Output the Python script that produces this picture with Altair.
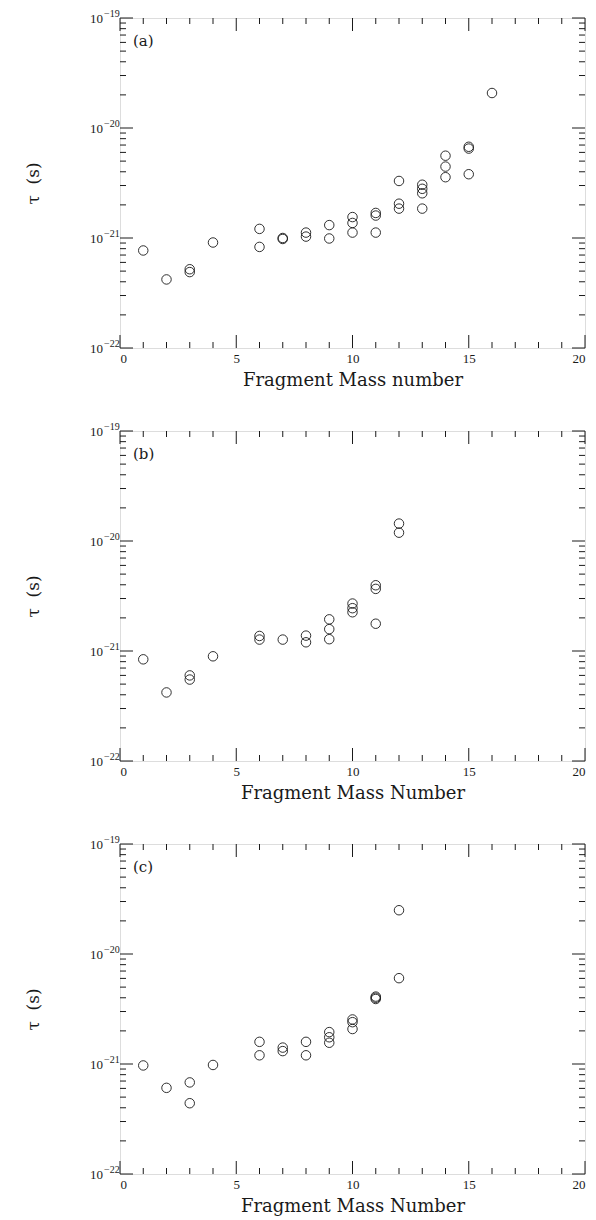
import altair as alt
import pandas as pd

# ---- data ----
a_x = [1, 2, 3, 3, 4, 6, 6, 7, 7, 8, 8, 9, 9, 10, 10, 10, 11, 11, 11,
       12, 12, 12, 13, 13, 13, 13, 14, 14, 14, 15, 15, 15, 16]
a_tau = [7.7e-22, 4.2e-22, 5.2e-22, 4.9e-22, 9.1e-22, 1.21e-21, 8.3e-22,
         1.0e-21, 0.98e-21, 1.12e-21, 1.03e-21, 1.31e-21, 0.99e-21,
         1.55e-21, 1.37e-21, 1.12e-21, 1.69e-21, 1.6e-21, 1.12e-21,
         3.3e-21, 2.05e-21, 1.85e-21, 3.05e-21, 2.8e-21, 2.55e-21, 1.85e-21,
         5.6e-21, 4.46e-21, 3.57e-21, 6.75e-21, 6.5e-21, 3.8e-21, 2.08e-20]

b_x = [1, 2, 3, 3, 4, 6, 6, 7, 8, 8, 9, 9, 9, 10, 10, 10, 11, 11, 11, 12, 12]
b_tau = [8.4e-22, 4.2e-22, 6.0e-22, 5.5e-22, 8.95e-22, 1.37e-21, 1.27e-21,
         1.27e-21, 1.38e-21, 1.2e-21, 1.94e-21, 1.58e-21, 1.28e-21,
         2.7e-21, 2.45e-21, 2.25e-21, 3.96e-21, 3.67e-21, 1.77e-21,
         1.44e-20, 1.19e-20]

c_x = [1, 2, 3, 3, 4, 6, 6, 7, 7, 8, 8, 9, 9, 9, 10, 10, 10, 11, 11, 11, 12, 12]
c_tau = [9.7e-22, 6.07e-22, 6.8e-22, 4.4e-22, 9.8e-22, 1.59e-21, 1.2e-21,
         1.41e-21, 1.31e-21, 1.59e-21, 1.2e-21, 1.95e-21, 1.75e-21, 1.56e-21,
         2.54e-21, 2.4e-21, 2.08e-21, 4.1e-21, 4.0e-21, 3.9e-21,
         2.5e-20, 6.03e-21]

panel_labels = ["(a)", "(b)", "(c)"]
x_titles = ["Fragment Mass number", "Fragment Mass Number", "Fragment Mass Number"]
y_title = "τ\u00a0\u00a0(s)"

x_major = [0, 5, 10, 15, 20]
x_minor = [v for v in range(0, 21) if v % 5 != 0]
y_major = [1e-22, 1e-21, 1e-20, 1e-19]
y_major_exp = ["−22", "−21", "−20", "−19"]
y_minor = [k * 10.0 ** e for e in (-22, -21, -20) for k in range(2, 10)]

W, H = 465, 330
INK = "#1a1a1a"
SERIF = "DejaVu Serif"
LSERIF = "Liberation Serif"

xscale = alt.Scale(domain=[0, 20], nice=False, zero=False)
yscale = alt.Scale(type="log", domain=[1e-22, 1e-19], nice=False)


def panel(xs, ts, label, xtitle):
    df = pd.DataFrame({"x": xs, "tau": ts})
    pts = alt.Chart(df).mark_point(
        shape="circle", filled=False, size=90, stroke=INK, strokeWidth=0.9, opacity=1
    ).encode(
        x=alt.X("x:Q", scale=xscale, title=xtitle,
                axis=alt.Axis(values=x_major, ticks=False, domain=False, grid=False,
                              labelFont=LSERIF, labelFontSize=13, labelColor=INK,
                              labelPadding=4, titleFont=SERIF, titleFontSize=18,
                              titleFontWeight="normal", titleColor=INK,
                              titlePadding=6)),
        y=alt.Y("tau:Q", scale=yscale, title=y_title,
                axis=alt.Axis(values=y_major, labels=False, ticks=False,
                              domain=False, grid=False,
                              titleFont=SERIF, titleFontSize=17,
                              titleFontWeight="normal", titleColor=INK,
                              titleX=-78)),
    )

    def xticks(vals, length, top):
        d = pd.DataFrame({"x": vals})
        y0, y1 = (0, length) if top else (H, H - length)
        return alt.Chart(d).mark_rule(color=INK, strokeWidth=1).encode(
            x=alt.X("x:Q", scale=xscale),
            y=alt.value(y0), y2=alt.value(y1))

    def yticks(vals, length, right):
        d = pd.DataFrame({"tau": vals})
        x0, x1 = (W, W - length) if right else (0, length)
        return alt.Chart(d).mark_rule(color=INK, strokeWidth=1).encode(
            y=alt.Y("tau:Q", scale=yscale),
            x=alt.value(x0), x2=alt.value(x1))

    ylab_df = pd.DataFrame({"tau": y_major, "e": y_major_exp})
    ten = alt.Chart(ylab_df).transform_calculate(b="'10'").mark_text(
        align="right", baseline="middle", font=LSERIF, fontSize=13, color=INK,
        dy=1
    ).encode(y=alt.Y("tau:Q", scale=yscale), x=alt.value(-17), text="b:N")
    expo = alt.Chart(ylab_df).mark_text(
        align="left", baseline="middle", font=LSERIF, fontSize=10, color=INK,
        dy=-4
    ).encode(y=alt.Y("tau:Q", scale=yscale), x=alt.value(-16), text="e:N")

    lab = alt.Chart(pd.DataFrame({"t": [label]})).mark_text(
        align="left", baseline="middle", font=SERIF, fontSize=15, color=INK
    ).encode(text="t:N", x=alt.value(13), y=alt.value(23))

    return alt.layer(
        pts,
        xticks(x_major, 13, False), xticks(x_minor, 6, False),
        xticks(x_major, 13, True), xticks(x_minor, 6, True),
        yticks(y_major, 13, False), yticks(y_minor, 6, False),
        yticks(y_major, 13, True), yticks(y_minor, 6, True),
        ten, expo, lab
    ).properties(width=W, height=H)


chart = alt.vconcat(
    panel(a_x, a_tau, panel_labels[0], x_titles[0]),
    panel(b_x, b_tau, panel_labels[1], x_titles[1]),
    panel(c_x, c_tau, panel_labels[2], x_titles[2]),
    spacing=31,
).properties(
    padding={"left": 15, "top": 0, "right": 0, "bottom": 0}
).configure_view(
    stroke=INK, strokeWidth=1
).configure(background="white")

chart.save("out.html", embed_options={"renderer": "svg", "actions": False})
